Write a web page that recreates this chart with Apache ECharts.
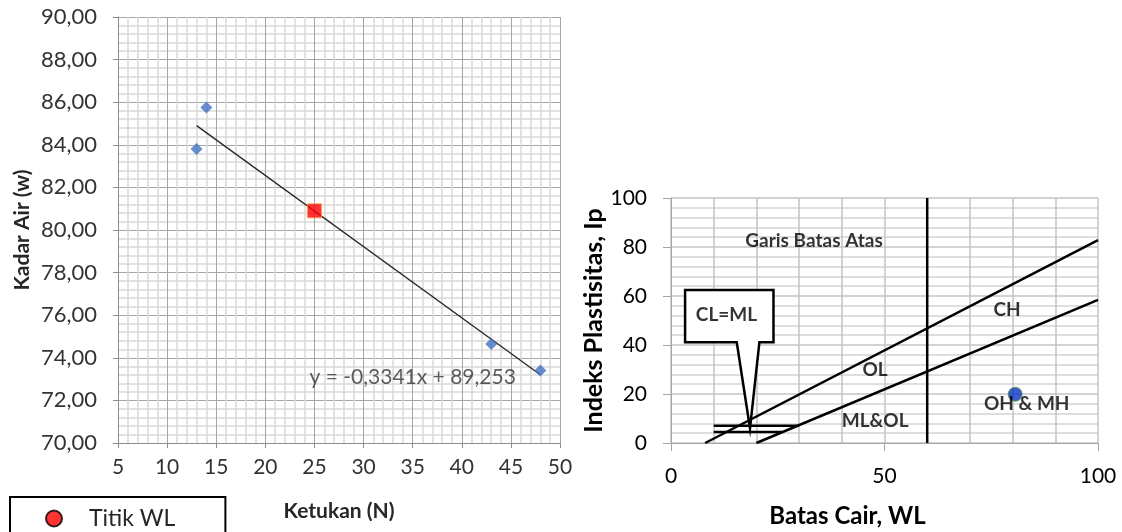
<!DOCTYPE html>
<html>
<head>
<meta charset="utf-8">
<script src="https://cdn.jsdelivr.net/npm/echarts@6/dist/echarts.min.js"></script>
<style>
  html, body { margin: 0; padding: 0; background: #fff; }
  #chart { width: 1122px; height: 532px; }
</style>
</head>
<body>
<div id="chart"></div>
<script>
// grafik batas cair (kiri)
const ketukan = [13, 14, 43, 48];
const kadarAir = [83.8, 85.75, 74.65, 73.4];
const trendX = [13, 48];
const trendY = [84.9, 73.2];
const titikWL = [25, 80.9];
const persamaan = 'y = -0,3341x + 89,253';
const posPersamaan = [35, 73.1];

// grafik plastisitas (kanan)
const garisAtasX = [8, 100];
const garisAtasY = [0, 82.8];
const garisAX = [20, 100];
const garisAY = [0, 58.4];
const garisVertX = [60, 60];
const garisVertY = [0, 100];
const clmlAtasX = [10, 30];
const clmlAtasY = [7, 7];
const clmlBawahX = [10, 26];
const clmlBawahY = [4.5, 4.5];
const calloutX = [15.4, 3.3, 3.3, 24, 24, 20.7, 18.5, 15.4];
const calloutY = [41.1, 41.1, 62.5, 62.5, 41.1, 41.1, 6, 41.1];
const titikSampel = [80.6, 19.9];
const labelZona = ['Garis Batas Atas', 'CH', 'OL', 'ML&OL', 'OH & MH', 'CL=ML'];
const labelZonaX = [33.5, 78.7, 47.8, 47.8, 83.3, 13.0];
const labelZonaY = [82.5, 54.3, 29.7, 9.0, 15.8, 52.3];

const font = 'Lato';
const zip = (xs, ys) => xs.map((x, i) => [x, ys[i]]);

const chart = echarts.init(document.getElementById('chart'));

const option = {
    animation: false,
    textStyle: { fontFamily: font },
    legend: {
        left: 10,
        top: 497,
        data: [{ name: 'Titik WL', icon: 'circle',
            itemStyle: { color: '#ff0000', borderColor: '#000', borderWidth: 2 } }],
        itemWidth: 16,
        itemHeight: 16,
        borderColor: '#000',
        borderWidth: 2,
        padding: [10, 50, 10, 35],
        textStyle: { fontSize: 23, color: '#262626', fontFamily: font, padding: [0, 0, 0, 22] }
    },
    grid: [
        { left: 118, right: 562, top: 17, bottom: 89 },
        { left: 671, right: 24, top: 198, bottom: 89 }
    ],
    xAxis: [
        {
            gridIndex: 0, type: 'value', min: 5, max: 50, interval: 5,
            name: 'Ketukan (N)', nameLocation: 'middle', nameGap: 58,
            nameTextStyle: { fontSize: 21, fontWeight: 'bold', color: '#262626', fontFamily: font },
            axisLine: { show: true, lineStyle: { color: '#8c8c8c' } },
            axisTick: { show: true, length: 5, lineStyle: { color: '#8c8c8c' } },
            axisLabel: { fontSize: 21, color: '#333', margin: 14 },
            splitLine: { show: true, lineStyle: { color: '#a6a6a6', width: 1 } },
            minorTick: { show: false, splitNumber: 5 },
            minorSplitLine: { show: true, lineStyle: { color: '#d9d9d9', width: 1.5 } }
        },
        {
            gridIndex: 1, type: 'value', min: 0, max: 100, interval: 50,
            name: 'Batas Cair, WL', nameLocation: 'middle', nameGap: 61,
            nameTextStyle: { fontSize: 24, fontWeight: 'bold', color: '#000', fontFamily: font, padding: [0, 74, 0, 0] },
            axisLine: { show: true, lineStyle: { color: '#a6a6a6' } },
            axisTick: { show: true, length: 8, lineStyle: { color: '#a6a6a6' } },
            axisLabel: { fontSize: 21, color: '#000', margin: 23 },
            splitLine: { show: true, lineStyle: { color: '#c4c4c4', width: 1.5 } },
            minorTick: { show: false, splitNumber: 5 },
            minorSplitLine: { show: true, lineStyle: { color: '#c4c4c4', width: 1.5 } }
        }
    ],
    yAxis: [
        {
            gridIndex: 0, type: 'value', min: 70, max: 90, interval: 2,
            name: 'Kadar Air (w)', nameLocation: 'middle', nameGap: 85,
            nameTextStyle: { fontSize: 21, fontWeight: 'bold', color: '#262626', fontFamily: font },
            axisLine: { show: true, lineStyle: { color: '#8c8c8c' } },
            axisTick: { show: true, length: 5, lineStyle: { color: '#8c8c8c' } },
            axisLabel: { fontSize: 22, color: '#333', margin: 21,
                formatter: v => v.toFixed(2).replace('.', ',') },
            splitLine: { show: true, lineStyle: { color: '#a6a6a6', width: 1 } },
            minorTick: { show: false, splitNumber: 5 },
            minorSplitLine: { show: true, lineStyle: { color: '#d9d9d9', width: 1.5 } }
        },
        {
            gridIndex: 1, type: 'value', min: 0, max: 100, interval: 20,
            name: 'Indeks Plastisitas, Ip', nameLocation: 'middle', nameGap: 56,
            nameTextStyle: { fontSize: 25, fontWeight: 'bold', color: '#000', fontFamily: font },
            axisLine: { show: true, lineStyle: { color: '#a6a6a6' } },
            axisTick: { show: true, length: 8, lineStyle: { color: '#a6a6a6' } },
            axisLabel: { fontSize: 21, color: '#000', margin: 24 },
            splitLine: { show: true, lineStyle: { color: '#c4c4c4', width: 1.5 } },
            minorTick: { show: false, splitNumber: 5 },
            minorSplitLine: { show: true, lineStyle: { color: '#d4d4d4', width: 1.5 } }
        }
    ],
    series: [
        // kiri
        {
            name: 'Kadar Air', type: 'scatter', xAxisIndex: 0, yAxisIndex: 0,
            symbol: 'diamond', symbolSize: 12,
            itemStyle: { color: '#4472c4' },
            data: zip(ketukan, kadarAir), z: 4
        },
        {
            name: 'Trendline', type: 'line', xAxisIndex: 0, yAxisIndex: 0,
            symbol: 'none', lineStyle: { color: '#262626', width: 1.3 },
            data: zip(trendX, trendY), z: 3
        },
        {
            name: 'Titik WL', type: 'scatter', xAxisIndex: 0, yAxisIndex: 0,
            symbol: 'rect', symbolSize: 14,
            itemStyle: { color: '#ff0000', borderColor: '#ff9a4d', borderWidth: 1 },
            data: [titikWL], z: 5
        },
        {
            name: 'Persamaan', type: 'scatter', xAxisIndex: 0, yAxisIndex: 0,
            symbolSize: 1, itemStyle: { color: 'rgba(0,0,0,0)' },
            label: { show: true, position: 'inside', formatter: persamaan,
                fontSize: 21, color: '#333', fontFamily: font },
            data: [posPersamaan], z: 6, silent: true
        },
        // kanan
        {
            name: 'Garis Batas Atas', type: 'line', xAxisIndex: 1, yAxisIndex: 1,
            symbol: 'none', lineStyle: { color: '#000', width: 2.5 },
            data: zip(garisAtasX, garisAtasY), z: 3
        },
        {
            name: 'Garis A', type: 'line', xAxisIndex: 1, yAxisIndex: 1,
            symbol: 'none', lineStyle: { color: '#000', width: 2.5 },
            data: zip(garisAX, garisAY), z: 3
        },
        {
            name: 'Garis WL', type: 'line', xAxisIndex: 1, yAxisIndex: 1,
            symbol: 'none', lineStyle: { color: '#000', width: 2.5 },
            data: zip(garisVertX, garisVertY), z: 3
        },
        {
            name: 'CL-ML atas', type: 'line', xAxisIndex: 1, yAxisIndex: 1,
            symbol: 'none', lineStyle: { color: '#000', width: 2.5 },
            data: zip(clmlAtasX, clmlAtasY), z: 3
        },
        {
            name: 'CL-ML bawah', type: 'line', xAxisIndex: 1, yAxisIndex: 1,
            symbol: 'none', lineStyle: { color: '#000', width: 2.5 },
            data: zip(clmlBawahX, clmlBawahY), z: 3
        },
        {
            name: 'Callout', type: 'custom', xAxisIndex: 1, yAxisIndex: 1,
            data: [0], z: 4, silent: true,
            renderItem: (params, api) => ({
                type: 'polygon',
                shape: { points: calloutX.map((x, i) => api.coord([x, calloutY[i]])) },
                style: { fill: '#fff', stroke: '#000', lineWidth: 2.5, lineJoin: 'miter' }
            })
        },
        {
            name: 'Sampel', type: 'scatter', xAxisIndex: 1, yAxisIndex: 1,
            symbol: 'circle', symbolSize: 14,
            itemStyle: { color: '#0a37c8', borderColor: '#5a9a3c', borderWidth: 1 },
            data: [titikSampel], z: 5
        },
        {
            name: 'Zona', type: 'scatter', xAxisIndex: 1, yAxisIndex: 1,
            symbolSize: 1, itemStyle: { color: 'rgba(0,0,0,0)' },
            label: { show: true, position: 'inside', fontSize: 19, fontWeight: 'bold',
                color: '#000', fontFamily: font,
                formatter: p => labelZona[p.dataIndex] },
            data: zip(labelZonaX, labelZonaY), z: 6, silent: true
        }
    ]
};

chart.setOption(option);
</script>
</body>
</html>
